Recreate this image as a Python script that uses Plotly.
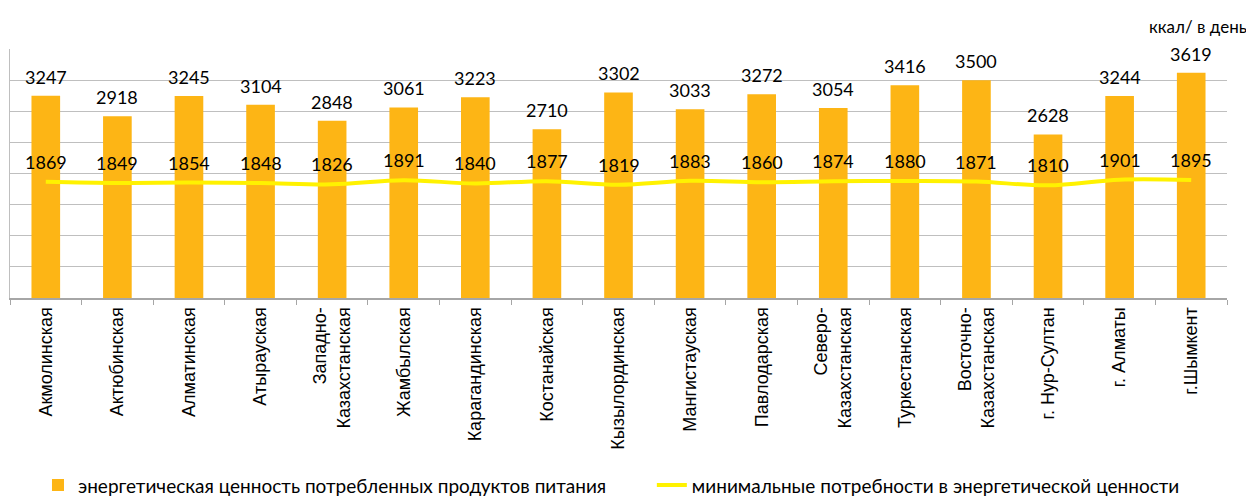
import plotly.graph_objects as go

categories = ["Акмолинская", "Актюбинская", "Алматинская", "Атырауская",
              "Западно-<br>Казахстанская", "Жамбылская", "Карагандинская",
              "Костанайская", "Кызылординская", "Мангистауская", "Павлодарская",
              "Северо-<br>Казахстанская", "Туркестанская", "Восточно-<br>Казахстанская",
              "г. Нур-Султан", "г. Алматы", "г.Шымкент"]
energy_consumed = [3247, 2918, 3245, 3104, 2848, 3061, 3223, 2710, 3302,
                   3033, 3272, 3054, 3416, 3500, 2628, 3244, 3619]
min_needs = [1869, 1849, 1854, 1848, 1826, 1891, 1840, 1877, 1819,
             1883, 1860, 1874, 1880, 1871, 1810, 1901, 1895]

name_bar = "энергетическая ценность потребленных продуктов питания"
name_line = "минимальные потребности в энергетической ценности"
unit_label = "ккал/ в день"

BAR_COLOR = "#FDB515"
LINE_COLOR = "#FFF200"
NUM_FONT = "Lato, Open Sans, sans-serif"

fig = go.Figure()
fig.add_trace(go.Bar(x=categories, y=energy_consumed, name=name_bar,
                     marker=dict(color=BAR_COLOR, line=dict(width=0)),
                     width=0.4, legend="legend"))
fig.add_trace(go.Scatter(x=categories, y=min_needs, name=name_line,
                         mode="lines", line=dict(color=LINE_COLOR, width=4, shape="spline"),
                         legend="legend2"))

annotations = []
for c, v in zip(categories, energy_consumed):
    annotations.append(dict(x=c, y=v, xref="x", yref="y", text=str(v), showarrow=False,
                            yanchor="bottom", yshift=6,
                            font=dict(family=NUM_FONT, size=18, color="#000000")))
for c, v in zip(categories, min_needs):
    annotations.append(dict(x=c, y=v, xref="x", yref="y", text=str(v), showarrow=False,
                            yanchor="middle", yshift=20,
                            font=dict(family=NUM_FONT, size=18, color="#000000")))
annotations.append(dict(x=1, y=1, xref="paper", yref="paper", xanchor="right", yanchor="bottom",
                        text=unit_label, showarrow=False, xshift=22, yshift=10,
                        font=dict(family=NUM_FONT, size=17, color="#000000")))

legend_font = dict(family=NUM_FONT, size=19, color="#000000")
fig.update_layout(
    width=1246, height=491,
    margin=dict(l=2, r=27, t=41, b=201, autoexpand=False),
    paper_bgcolor="white", plot_bgcolor="white",
    showlegend=True,
    legend=dict(orientation="h", x=0.023, xanchor="left", y=-0.752, yanchor="middle",
                font=legend_font, bgcolor="rgba(0,0,0,0)"),
    legend2=dict(orientation="h", x=0.5274, xanchor="left", y=-0.752, yanchor="middle",
                 font=legend_font, bgcolor="rgba(0,0,0,0)"),
    annotations=annotations,
    bargap=0.6,
)
fig.update_xaxes(type="category", tickson="boundaries", ticks="outside", ticklen=5,
                 tickcolor="#A6A6A6", showline=True, linecolor="#A6A6A6", linewidth=2,
                 showgrid=False, tickangle=-90,
                 tickfont=dict(family="Liberation Sans, Arial, sans-serif", size=18, color="#000000"))
fig.update_yaxes(range=[0, 4000], dtick=500, showgrid=True, gridcolor="#BFBFBF", gridwidth=1,
                 showticklabels=False, showline=True, linecolor="#BFBFBF", linewidth=1,
                 zeroline=False, ticks="")

fig.write_html("out.html")
